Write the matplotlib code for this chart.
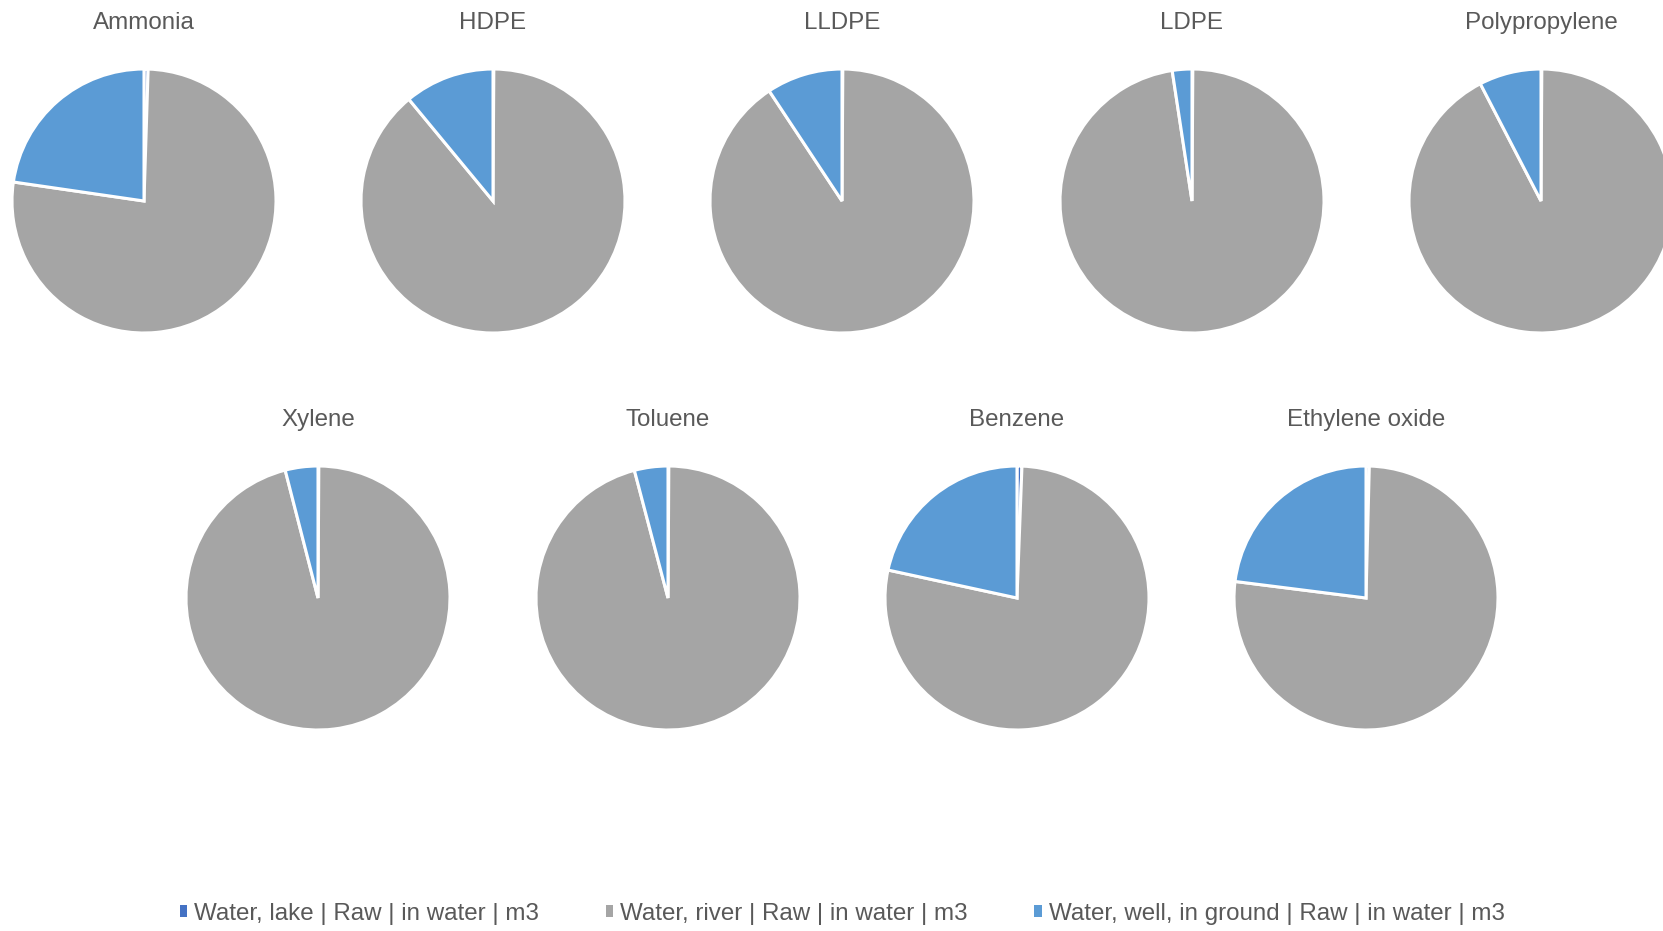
import matplotlib
matplotlib.use("Agg")
import matplotlib.pyplot as plt
from matplotlib.patches import Patch

plt.rcParams["font.family"] = ["Liberation Sans", "DejaVu Sans"]

# Data (shares in %)
products = ["Ammonia", "HDPE", "LLDPE", "LDPE", "Polypropylene",
            "Xylene", "Toluene", "Benzene", "Ethylene oxide"]
lake = [0.5, 0.1, 0.1, 0.1, 0.1, 0.1, 0.1, 0.6, 0.4]
well = [22.7, 11.0, 9.3, 2.4, 7.6, 4.0, 4.1, 21.6, 23.0]
river = [100 - a - b for a, b in zip(lake, well)]

series = ["Water, lake | Raw | in water | m3",
          "Water, river | Raw | in water | m3",
          "Water, well, in ground | Raw | in water | m3"]
colors = ["#4472C4", "#A5A5A5", "#5B9BD5"]
text_color = "#595959"

W, H = 1663, 931
fig = plt.figure(figsize=(W / 100, H / 100), dpi=100)

# pie centers in pixels
centers = [(144, 201), (493, 201), (842, 201), (1192, 201), (1541, 201),
           (318, 598), (668, 598), (1017, 598), (1366, 598)]
R = 132

for i, name in enumerate(products):
    cx, cy = centers[i]
    ax = fig.add_axes([(cx - R) / W, 1 - (cy + R) / H, 2 * R / W, 2 * R / H])
    ax.pie([lake[i], river[i], well[i]], colors=colors, startangle=90,
           counterclock=False, radius=1,
           wedgeprops=dict(edgecolor="white", linewidth=2.2))
    ax.set_xlim(-1, 1)
    ax.set_ylim(-1, 1)
    ax.set_aspect("equal")
    fig.text(cx / W, 1 - (cy - 178) / H, name, ha="center", va="center",
             fontsize=17.4, color=text_color)

handles = [Patch(facecolor=c, edgecolor="none") for c in colors]
fig.legend(handles, series, loc="center", bbox_to_anchor=(0.5065, 1 - 914 / H),
           ncol=3, frameon=False, fontsize=17.4, handlelength=0.3,
           handleheight=0.4, handletextpad=0.3, columnspacing=2.75,
           labelcolor=text_color)

fig.savefig("out.png", dpi=100)
